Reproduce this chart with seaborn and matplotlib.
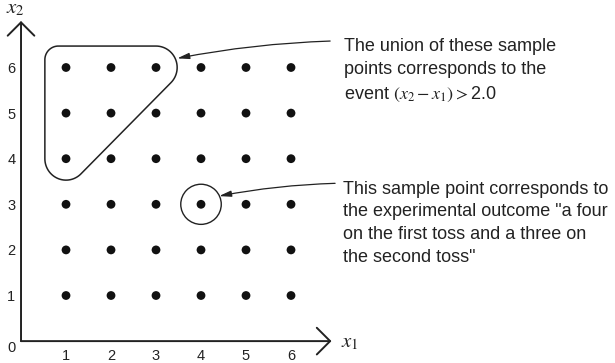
import itertools
import numpy as np
import pandas as pd
import matplotlib.pyplot as plt
import seaborn as sns
from matplotlib.path import Path
from matplotlib.patches import PathPatch, Ellipse

sns.set_theme(style="white")
plt.rcParams['font.family'] = ['Liberation Sans', 'DejaVu Sans']
plt.rcParams['mathtext.fontset'] = 'stix'

# Sample space of two tosses of a die
first_toss = [1, 2, 3, 4, 5, 6]
second_toss = [1, 2, 3, 4, 5, 6]
highlight_point = (4, 3)
event_text = "The union of these sample\npoints corresponds to the\nevent $(x_2 - x_1)>$2.0"
point_text = ("This sample point corresponds to\nthe experimental outcome \"a four\n"
              "on the first toss and a three on\nthe second toss\"")

df = pd.DataFrame(list(itertools.product(first_toss, second_toss)), columns=['x1', 'x2'])


def arc(cx, cy, r, a0, a1, n=30):
    t = np.radians(np.linspace(a0, a1, n))
    return list(zip(cx + r * np.cos(t), cy + r * np.sin(t)))


def event_outline(R=0.47, r_tl=0.3):
    """Rounded outline around the points with x2 - x1 > 2."""
    left, top = 1 - R, 6 + R
    verts = [(left + r_tl, top), (3, top)]
    verts += arc(3, 6, R, 90, -45)
    verts += arc(1, 4, R, -45, -180)
    verts += [(left, top - r_tl)]
    verts += arc(left + r_tl, top - r_tl, r_tl, 180, 90)
    return Path(verts, closed=False)


fig = plt.figure(figsize=(6.15, 3.63), dpi=100)
ax = fig.add_axes([0, 0, 1, 1])

sns.scatterplot(data=df, x='x1', y='x2', color='#111111', s=40, edgecolor='none', ax=ax, legend=False)

ax.set_xlim(-0.467, 13.2)
ax.set_ylim(-0.48, 7.48)
ax.set_xlabel('')
ax.set_ylabel('')

for side in ['top', 'right']:
    ax.spines[side].set_visible(False)
for side in ['left', 'bottom']:
    ax.spines[side].set_position(('data', 0))
    ax.spines[side].set_visible(False)

ax.set_xticks(first_toss)
ax.set_yticks(second_toss)
ax.tick_params(axis='both', direction='in', length=7, width=1.0, color='#222222',
               labelsize=10.5, labelcolor='#222222', pad=4)
ax.tick_params(axis='x', pad=6)

# axes with open arrowheads
axis_arrow = dict(arrowstyle='->,head_length=0.8,head_width=0.8', lw=1.4, color='#222222',
                  shrinkA=0, shrinkB=0)
ax.annotate('', xy=(0, 7.02), xytext=(0, 0), arrowprops=axis_arrow)
ax.annotate('', xy=(6.9, 0), xytext=(0, 0), arrowprops=axis_arrow)
ax.text(-0.22, -0.16, '0', ha='center', va='center', fontsize=10.5, color='#222222')
ax.text(-0.12, 7.3, '$x_2$', ha='center', va='center', fontsize=15, color='#222222')
ax.text(7.3, -0.04, '$x_1$', ha='center', va='center', fontsize=15, color='#222222')

# event region (x2 - x1) > 2
ax.add_patch(PathPatch(event_outline(), fill=False, lw=1.1, edgecolor='#222222'))

# single sample point
ax.add_patch(Ellipse(highlight_point, 0.9, 0.88, fill=False, lw=1.0, edgecolor='#222222'))

pointer = dict(arrowstyle='-|>,head_length=0.6,head_width=0.15', lw=0.9, color='#222222',
               connectionstyle='arc3,rad=0.04', shrinkA=0, shrinkB=0)
ax.annotate('', xy=(3.47, 6.2), xytext=(6.87, 6.58), arrowprops=pointer)
ax.annotate('', xy=(4.4, 3.18), xytext=(6.98, 3.46), arrowprops=pointer)

ax.text(7.18, 6.64, event_text, ha='left', va='top', fontsize=13, color='#222222', linespacing=1.45)
ax.text(7.16, 3.52, point_text, ha='left', va='top', fontsize=13, color='#222222', linespacing=1.45)

fig.savefig('out.png', dpi=100)
